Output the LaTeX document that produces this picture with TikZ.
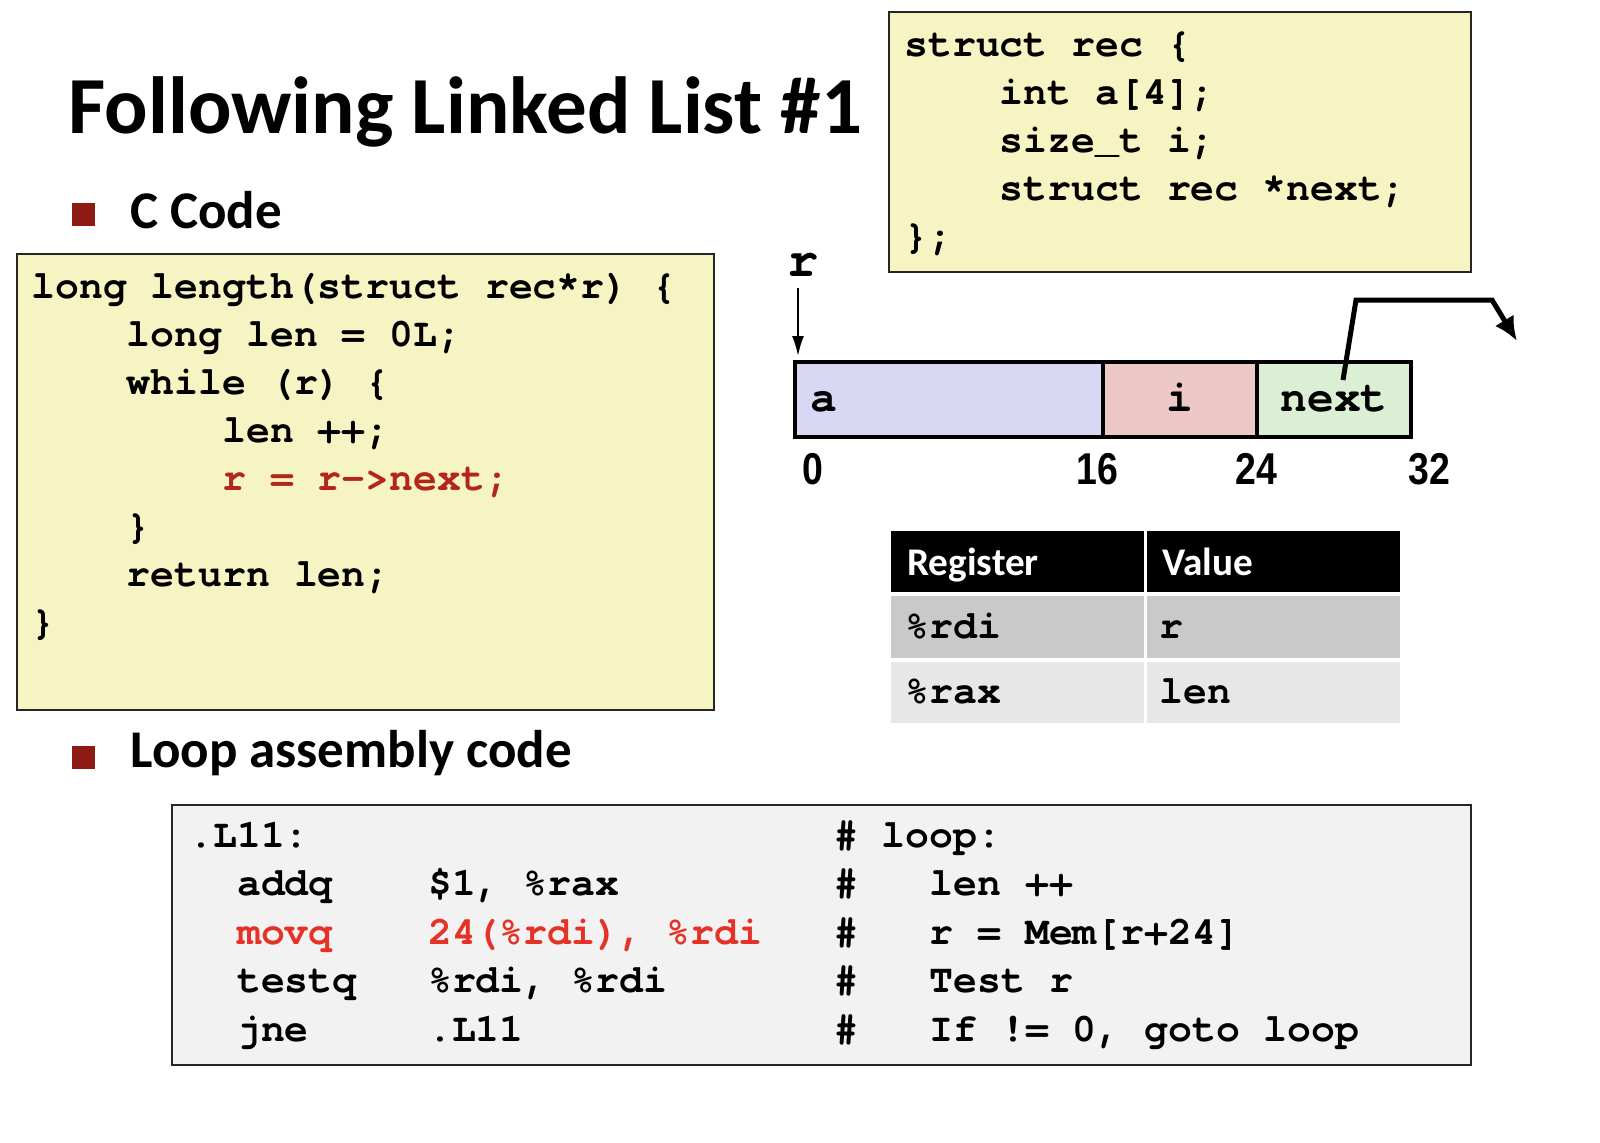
\documentclass[tikz,border=0pt]{standalone}
\usepackage{fontspec}
\usepackage{graphicx}
\setmainfont{Carlito}
\setmonofont{TeX Gyre Cursor}
\newfontfamily\numfont{Liberation Sans}
\usetikzlibrary{arrows.meta,positioning}
\definecolor{codebg}{HTML}{F7F4C3}
\definecolor{asmbg}{HTML}{F2F2F2}
\definecolor{cella}{HTML}{D8D8F4}
\definecolor{celli}{HTML}{ECC8C6}
\definecolor{cellnext}{HTML}{DBEFD5}
\definecolor{rowdark}{HTML}{C9C9C9}
\definecolor{rowlight}{HTML}{E7E7E7}
\definecolor{bulletred}{HTML}{8E1B13}
\definecolor{cred}{HTML}{B3261C}
\definecolor{ared}{HTML}{E53227}
\tikzset{
  code/.style={anchor=base west, inner sep=0pt, font=\fontsize{19.9}{24}\selectfont\ttfamily\bfseries},
  box/.style={draw=black!85, line width=1pt},
  bullet/.style={fill=bulletred, minimum size=11.5pt, inner sep=0pt},
  head/.style={anchor=base west, inner sep=0pt, font=\fontsize{26.5}{30}\selectfont\bfseries},
  cell/.style={draw, line width=2pt, minimum height=37.5pt, inner sep=0pt, outer sep=0pt},
  memtxt/.style={inner sep=0pt, font=\fontsize{22.3}{26}\selectfont\ttfamily\bfseries},
  num/.style={anchor=base, inner sep=0pt, font=\fontsize{22.3}{26}\selectfont\numfont\bfseries},
  thead/.style={anchor=base west, inner sep=0pt, text=white, font=\fontsize{19.6}{24}\selectfont\bfseries},
  ptr/.style={line width=1pt, -{Latex[length=10pt,width=6pt]}},
  bigptr/.style={line width=2.5pt, -{Latex[length=12pt,width=11pt]}}
}
\begin{document}
\begin{tikzpicture}[x=0.5pt, y=-0.5pt]
\useasboundingbox (0,0) rectangle (1600,1142);
% headings
\node[anchor=base west, inner sep=0pt, font=\fontsize{40.5}{44}\selectfont\bfseries] (title) at (68,133) {Following Linked List \#1};
\node[bullet] (b1) at (83.5,214.5) {}; \node[head] (hc) at (130,228) {C Code};
\node[bullet] (b2) at (83.5,757) {}; \node[head] (ha) at (130,767) {Loop assembly code};
% C code
\draw[box, fill=codebg] (17,254) rectangle (714,710);
\foreach \t [count=\k from 0] in {{long length(struct rec*r) \{}, {~~~~long len = 0L;}, {~~~~while (r) \{}, {~~~~~~~~len ++;},
  {~~~~~~~~\textcolor{cred}{r = r->next;}}, {~~~~\}}, {~~~~return len;}, {\}}}
  \node[code] (c\k) at (31,298+48*\k) {\t};
% struct
\draw[box, fill=codebg] (889,12) rectangle (1471,272);
\foreach \t [count=\k from 0] in {{struct rec \{}, {~~~~int a[4];}, {~~~~size\_t i;}, {~~~~struct rec *next;}, {\};}}
  \node[code] (s\k) at (904,56+48*\k) {\t};
% memory layout
\node[cell, fill=cella, minimum width=154pt, anchor=north west] (a) at (795,362) {};
\node[cell, fill=celli, minimum width=77pt, right=0pt of a] (i) {};
\node[cell, fill=cellnext, minimum width=77pt, right=0pt of i] (nx) {};
\node[memtxt, anchor=base west] (la) at ([xshift=7.5pt, yshift=-5.75pt]a.west) {a};
\node[memtxt, anchor=base] (li) at ([yshift=-5.75pt]i.center) {i};
\node[memtxt, anchor=base] (lnx) at ([yshift=-5.75pt]nx.center) {next};
\node[num] (n0) at (813,484) {\scalebox{0.84}[1]{0}};
\node[num] (n16) at (1097,484) {\scalebox{0.84}[1]{16}};
\node[num] (n24) at (1256,484) {\scalebox{0.84}[1]{24}};
\node[num] (n32) at (1429,484) {\scalebox{0.84}[1]{32}};
\node[memtxt, font=\fontsize{26}{30}\selectfont\ttfamily\bfseries, anchor=base] (r) at (803,276) {r};
\draw[ptr] ([xshift=1.5pt, yshift=-6pt]a.north west |- r.base) -- ([xshift=1.5pt, yshift=3pt]a.north west);
\coordinate (ntip) at (1517,341);
\draw[bigptr] ([xshift=4.5pt, yshift=9.75pt]nx.center) -- (1356,300) -- (1492,300) -- (ntip);
% registers
\fill (891,531) rectangle (1144,592); \fill (1147,531) rectangle (1400,592);
\fill[rowdark] (891,596) rectangle (1144,658); \fill[rowdark] (1147,596) rectangle (1400,658);
\fill[rowlight] (891,662) rectangle (1144,723); \fill[rowlight] (1147,662) rectangle (1400,723);
\node[thead] (treg) at (907,575) {Register}; \node[thead] (tval) at (1162,575) {Value};
\node[code] (rdi) at (905,638) {\%rdi}; \node[code] (vr) at (1159,638) {r};
\node[code] (rax) at (905,703) {\%rax}; \node[code] (vlen) at (1159,703) {len};
% assembly
\draw[box, fill=asmbg] (172,805) rectangle (1471,1065);
\foreach \t [count=\k from 0] in {{.L11:~~~~~~~~~~~~~~~~~~~~~~\# loop:},
  {~~addq~~~~\$1, \%rax~~~~~~~~~\#~~~len ++},
  {~~\textcolor{ared}{movq~~~~24(\%rdi), \%rdi}~~~\#~~~r = Mem[r+24]},
  {~~testq~~~\%rdi, \%rdi~~~~~~~\#~~~Test r},
  {~~jne~~~~~.L11~~~~~~~~~~~~~\#~~~If != 0, goto loop}}
  \node[code] (m\k) at (189,847+48.5*\k) {\t};
\end{tikzpicture}
\end{document}
